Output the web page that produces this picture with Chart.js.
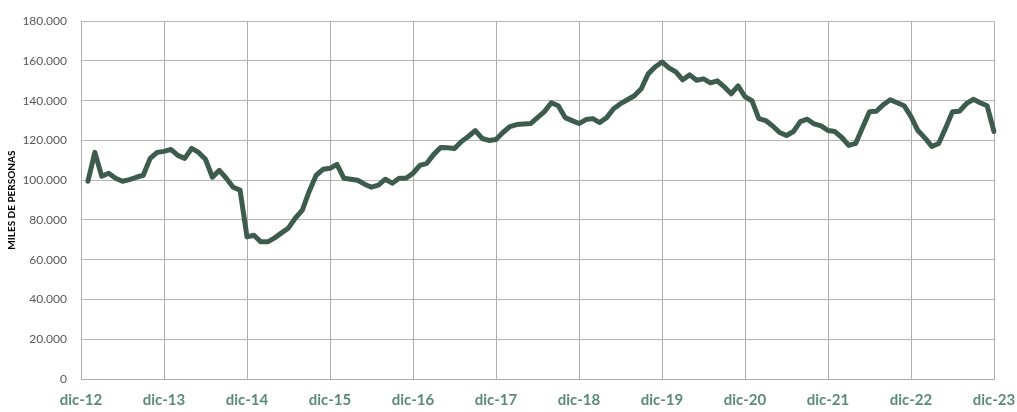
<!DOCTYPE html>
<html lang="es">
<head>
<meta charset="utf-8">
<title>Miles de personas</title>
<script src="https://cdn.jsdelivr.net/npm/chart.js@4.4.1/dist/chart.umd.min.js"></script>
<style>
  html, body { margin: 0; padding: 0; background: #ffffff; }
  #wrap { width: 1017px; height: 412px; position: relative; }
</style>
</head>
<body>
<div id="wrap"><canvas id="serie"></canvas></div>
<script>
// Series mensual dic-12 a dic-23 (el primer mes no tiene dato)
const meses = ['ene', 'feb', 'mar', 'abr', 'may', 'jun', 'jul', 'ago', 'sep', 'oct', 'nov', 'dic'];
const anios = ['12', '13', '14', '15', '16', '17', '18', '19', '20', '21', '22', '23'];

const valores = [
  null,
  99500, 114000, 102000, 103500, 101000, 99500, 100300, 101500, 102500, 111000, 114000, 114500,
  115500, 112500, 111000, 116000, 114000, 110500, 101500, 105000, 101000, 96500, 95000, 71500,
  72300, 69000, 69000, 71000, 73500, 76000, 81000, 85000, 94500, 102500, 105500, 106000,
  108000, 101000, 100500, 100000, 98000, 96500, 97500, 100500, 98500, 101000, 101000, 103500,
  107500, 108500, 113000, 116500, 116300, 116000, 119500, 122000, 125000, 121000, 120000, 120500,
  124000, 127000, 128000, 128300, 128500, 131500, 134500, 139000, 137500, 131500, 130000, 128500,
  130500, 131000, 129000, 131500, 136000, 138500, 140500, 142500, 146000, 153500, 157000, 159500,
  156500, 154500, 150500, 153000, 150300, 151000, 149000, 150000, 147000, 143500, 147500, 142000,
  140000, 131000, 130000, 127300, 124000, 122500, 124500, 129500, 130700, 128300, 127300, 125000,
  124500, 121500, 117500, 118500, 126500, 134500, 134700, 138000, 140500, 139000, 137500, 132000,
  125000, 121300, 117000, 118500, 126200, 134500, 134700, 138500, 140700, 139000, 137500, 124500
];

const yMax = 180000;
const yStep = 20000;

// etiquetas: dic-12, ene-13, ..., dic-23
const etiquetas = ['dic-' + anios[0]];
for (let a = 1; a < anios.length; a++) {
  meses.forEach(m => etiquetas.push(m + '-' + anios[a]));
}

function puntoMiles(v) {
  return String(v).replace(/\B(?=(\d{3})+(?!\d))/g, '.');
}

const ctx = document.getElementById('serie');
new Chart(ctx, {
  type: 'line',
  data: {
    labels: etiquetas,
    datasets: [{
      data: valores,
      borderColor: '#3d5c4e',
      borderWidth: 5,
      tension: 0,
      pointRadius: 0,
      borderJoinStyle: 'round',
      borderCapStyle: 'round',
      fill: false
    }]
  },
  options: {
    responsive: true,
    maintainAspectRatio: false,
    animation: false,
    layout: { padding: { top: 12, right: 23, left: 0, bottom: 0 } },
    plugins: { legend: { display: false }, tooltip: { enabled: false } },
    scales: {
      x: {
        offset: false,
        grid: { color: '#adadad', lineWidth: 1, drawTicks: false },
        border: { color: '#adadad' },
        ticks: {
          autoSkip: false,
          maxRotation: 0,
          padding: 12,
          color: '#5b8a77',
          font: { family: 'Lato', size: 15, weight: 'bold' },
          callback: function(val, i) {
            return i % 12 === 0 ? this.getLabelForValue(val) : null;
          }
        },
        afterFit: (scale) => {
          scale.height = 33;
          scale.paddingLeft = 0;
          scale.paddingRight = 0;
        }
      },
      y: {
        min: 0,
        max: yMax,
        grid: { color: '#b5b5b5', lineWidth: 1, drawTicks: false },
        border: { color: '#adadad' },
        ticks: {
          stepSize: yStep,
          padding: 14,
          color: '#595959',
          font: { family: 'Lato', size: 12 },
          callback: (v) => puntoMiles(v)
        },
        title: {
          display: true,
          text: 'MILES DE PERSONAS',
          color: '#000000',
          padding: { top: 6, bottom: 0 },
          font: { family: 'Lato', size: 10, weight: 'bold' }
        },
        afterFit: (scale) => { scale.width = 81; }
      }
    }
  }
});
</script>
</body>
</html>
